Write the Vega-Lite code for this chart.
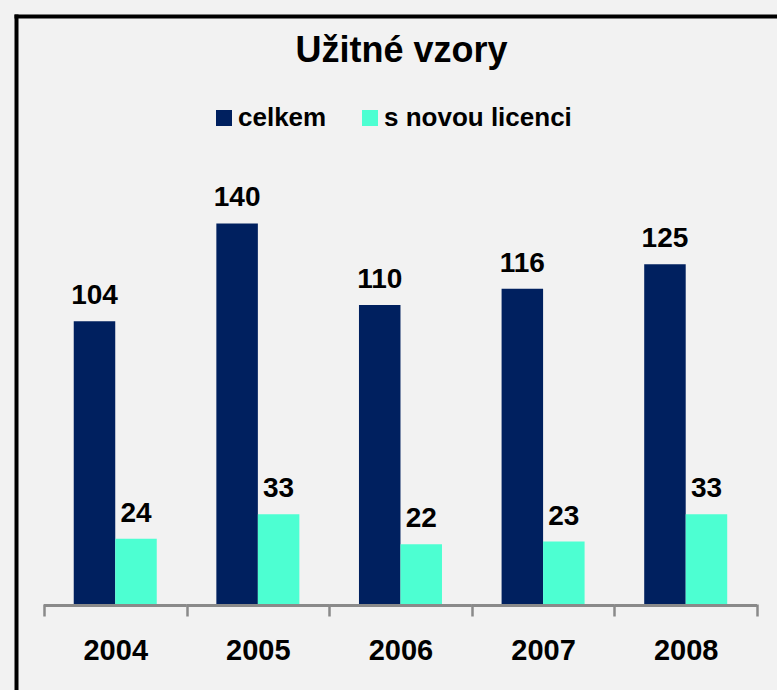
{
  "$schema": "https://vega.github.io/schema/vega-lite/v6.json",
  "autosize": "none",
  "width": 761,
  "height": 674,
  "padding": {"left": 16, "top": 16, "right": 0, "bottom": 0},
  "background": "#f2f2f2",
  "config": {
    "view": {"stroke": null},
    "font": "Liberation Sans"
  },
  "title": {
    "text": "Užitné vzory",
    "font": "Liberation Sans",
    "fontSize": 36,
    "fontWeight": "bold",
    "color": "#000000",
    "anchor": "middle",
    "orient": "top",
    "baseline": "alphabetic",
    "offset": 0,
    "dx": 5,
    "dy": 82
  },
  "datasets": {
    "bars": [
      {"year": "2004", "series": "celkem", "value": 104},
      {"year": "2004", "series": "s novou licenci", "value": 24},
      {"year": "2005", "series": "celkem", "value": 140},
      {"year": "2005", "series": "s novou licenci", "value": 33},
      {"year": "2006", "series": "celkem", "value": 110},
      {"year": "2006", "series": "s novou licenci", "value": 22},
      {"year": "2007", "series": "celkem", "value": 116},
      {"year": "2007", "series": "s novou licenci", "value": 23},
      {"year": "2008", "series": "celkem", "value": 125},
      {"year": "2008", "series": "s novou licenci", "value": 33}
    ],
    "years": [
      {"year": "2004"}, {"year": "2005"}, {"year": "2006"}, {"year": "2007"}, {"year": "2008"}
    ]
  },
  "resolve": {"axis": {"x": "independent"}},
  "layer": [
    {
      "data": {"name": "years"},
      "mark": {"type": "bar", "color": "#8a8a8a"},
      "encoding": {
        "x": {
          "field": "year",
          "type": "nominal",
          "scale": {"paddingInner": 0, "paddingOuter": 0.168, "align": 0.583},
          "axis": {
            "orient": "top",
            "domain": true,
            "domainColor": "#000000",
            "domainWidth": 4,
            "domainCap": "square",
            "labels": false,
            "ticks": false,
            "grid": false,
            "title": null
          }
        },
        "y": {"datum": 0, "type": "quantitative"},
        "y2": {"datum": -1.1}
      }
    },
    {
      "data": {"name": "bars"},
      "mark": {"type": "bar"},
      "encoding": {
        "x": {
          "field": "year",
          "type": "nominal",
          "scale": {"paddingInner": 0, "paddingOuter": 0.168, "align": 0.583},
          "axis": {
            "orient": "bottom",
            "offset": -86,
            "domain": false,
            "ticks": true,
            "tickBand": "extent",
            "tickColor": "#8a8a8a",
            "tickWidth": 2.5,
            "tickSize": 12,
            "labelAngle": 0,
            "labelFont": "Liberation Sans",
            "labelFontSize": 29,
            "labelFontWeight": "bold",
            "labelColor": "#000000",
            "labelPadding": 20,
            "grid": false,
            "title": null
          }
        },
        "xOffset": {
          "field": "series",
          "type": "nominal",
          "scale": {"paddingInner": 0, "paddingOuter": 0.718}
        },
        "y": {
          "field": "value",
          "type": "quantitative",
          "scale": {"domain": [-31.6, 216.3], "nice": false, "zero": false},
          "axis": {
            "domain": true,
            "domainColor": "#000000",
            "domainWidth": 4,
            "domainCap": "square",
            "labels": false,
            "ticks": false,
            "grid": false,
            "title": null
          }
        },
        "color": {
          "field": "series",
          "type": "nominal",
          "scale": {"domain": ["celkem", "s novou licenci"], "range": ["#00205f", "#4dffd2"]},
          "legend": {
            "orient": "none",
            "direction": "horizontal",
            "legendX": 195,
            "legendY": 89,
            "padding": 0,
            "title": null,
            "symbolType": "square",
            "symbolSize": 256,
            "symbolStrokeWidth": 0,
            "labelFont": "Liberation Sans",
            "labelFontSize": 26,
            "labelFontWeight": "bold",
            "labelColor": "#000000",
            "labelOffset": 1,
            "columnPadding": 30,
            "labelLimit": 400
          }
        }
      }
    },
    {
      "data": {"name": "bars"},
      "mark": {"type": "text", "baseline": "alphabetic", "dy": -17, "font": "Liberation Sans", "fontSize": 28, "fontWeight": "bold", "color": "#000000"},
      "encoding": {
        "x": {"field": "year", "type": "nominal"},
        "xOffset": {"field": "series", "type": "nominal"},
        "y": {"field": "value", "type": "quantitative"},
        "text": {"field": "value", "type": "quantitative"}
      }
    }
  ]
}
